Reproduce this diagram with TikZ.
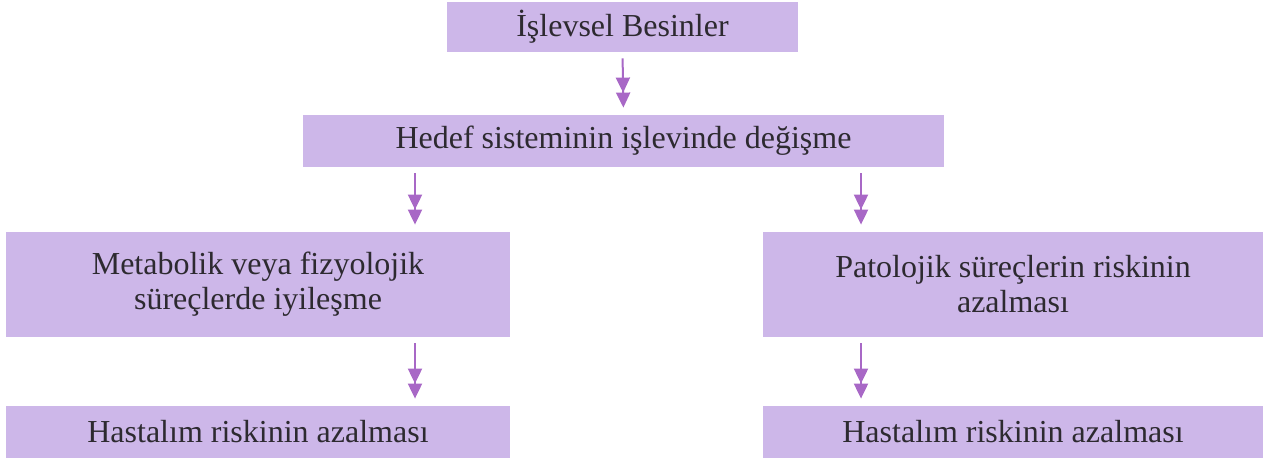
\documentclass[tikz,border=0pt]{standalone}
\usepackage{fontspec}
\setmainfont{Liberation Serif}
\usetikzlibrary{arrows.meta,positioning}
\definecolor{boxfill}{RGB}{205,183,233}
\definecolor{flowline}{RGB}{168,104,198}
\definecolor{textgray}{RGB}{45,42,48}

\begin{document}
\begin{tikzpicture}[x=0.5pt,y=0.5pt,
  box/.style={fill=boxfill,draw=none,text=textgray,align=center,inner sep=0pt,
    font=\fontsize{16}{17.5}\selectfont},
  flow/.style={draw=flowline,line width=1pt,
    -{Triangle[width=7pt,length=7.5pt,sep=0pt]Triangle[width=7pt,length=7.5pt]},
    shorten <=3pt,shorten >=3.5pt}]
\useasboundingbox (0,0) rectangle (1263,460);
% boxes
\node[box,minimum width=175.5pt,minimum height=25pt] (besin) at (622.5,433) {İşlevsel Besinler};
\node[box,minimum width=320.5pt,minimum height=26pt] (hedef) at (623.5,319) {Hedef sisteminin işlevinde değişme};
\node[box,minimum width=252pt,minimum height=52.5pt] (metab) at (258,175.5) {Metabolik veya fizyolojik\\süreçlerde iyileşme};
\node[box,minimum width=250pt,minimum height=52.5pt] (pato) at (1013,175.5) {Patolojik süreçlerin riskinin\\azalması};
\node[box,minimum width=252pt,minimum height=26pt] (hastA) at (258,28) {Hastalım riskinin azalması};
\node[box,minimum width=250pt,minimum height=26pt] (hastB) at (1013,28) {Hastalım riskinin azalması};
% arrow columns
\coordinate (lx) at (415,0);
\coordinate (rx) at (861,0);
\draw[flow] (besin.south) -- (hedef.north);
\draw[flow] (hedef.south -| lx) -- (metab.north -| lx);
\draw[flow] (hedef.south -| rx) -- (pato.north -| rx);
\draw[flow] (metab.south -| lx) -- (hastA.north -| lx);
\draw[flow] (pato.south -| rx) -- (hastB.north -| rx);
\end{tikzpicture}
\end{document}
